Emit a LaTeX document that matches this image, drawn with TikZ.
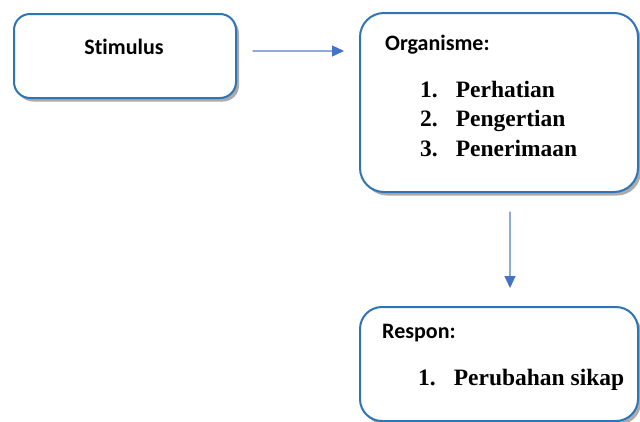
\documentclass[tikz,border=0pt]{standalone}
\usepackage{fontspec}
\setmainfont{Liberation Serif}
\newfontfamily\calibri[RawFeature=-liga]{Carlito}
\usetikzlibrary{arrows.meta,shadows}
\definecolor{boxblue}{RGB}{46,117,182}
\definecolor{lineblue}{RGB}{143,170,220}
\definecolor{tipblue}{RGB}{68,114,196}
\tikzset{
  every picture/.style={line join=round, line cap=round},
  box/.style={draw=boxblue, line width=2pt, fill=white, rounded corners=16pt,
    drop shadow={shadow xshift=3pt, shadow yshift=-3.5pt, opacity=0.55, fill=black!60}},
  head/.style={font=\calibri\bfseries\fontsize{22}{26}\selectfont, inner sep=0pt},
  items/.style={font=\bfseries\fontsize{23.5}{29.5}\selectfont, inner sep=0pt},
  flow/.style={draw=lineblue, line width=1.2pt, -{Triangle[length=12pt,width=11pt,color=tipblue]}},
}

\begin{document}
\begin{tikzpicture}[x=1pt,y=-1pt]
\useasboundingbox[fill=white](0,0)rectangle(640,421);
\node[box, minimum width=222pt, minimum height=84pt](stim)at(125,56){};
\node[box, minimum width=278pt, minimum height=179pt, rounded corners=24pt](org)at(499,102.5){};
\node[box, minimum width=278pt, minimum height=114pt, rounded corners=22pt](resp)at(499,364){};
\node[head](stimtxt)at(124,47){Stimulus};
\node[head, anchor=west](orgtxt)at(385,45){Organisme:};
\node[items, anchor=base west](orglist)at(420,97){\begin{tabular}[t]{@{}l@{\hspace{18pt}}l@{}}
1. & Perhatian\\
2. & Pengertian\\
3. & Penerimaan
\end{tabular}};
\node[head, anchor=west](resptxt)at(382,333){Respon:};
\node[items, anchor=base west](resplist)at(418,385){\begin{tabular}[t]{@{}l@{\hspace{18pt}}l@{}}
1. & Perubahan sikap
\end{tabular}};
\draw[flow, shorten <=16pt, shorten >=15pt]([yshift=5pt]stim.east)--([yshift=5pt]stim.east -| org.west);
\draw[flow, shorten <=19pt, shorten >=18pt]([xshift=11pt]org.south)--([xshift=11pt]resp.north);
\end{tikzpicture}
\end{document}
